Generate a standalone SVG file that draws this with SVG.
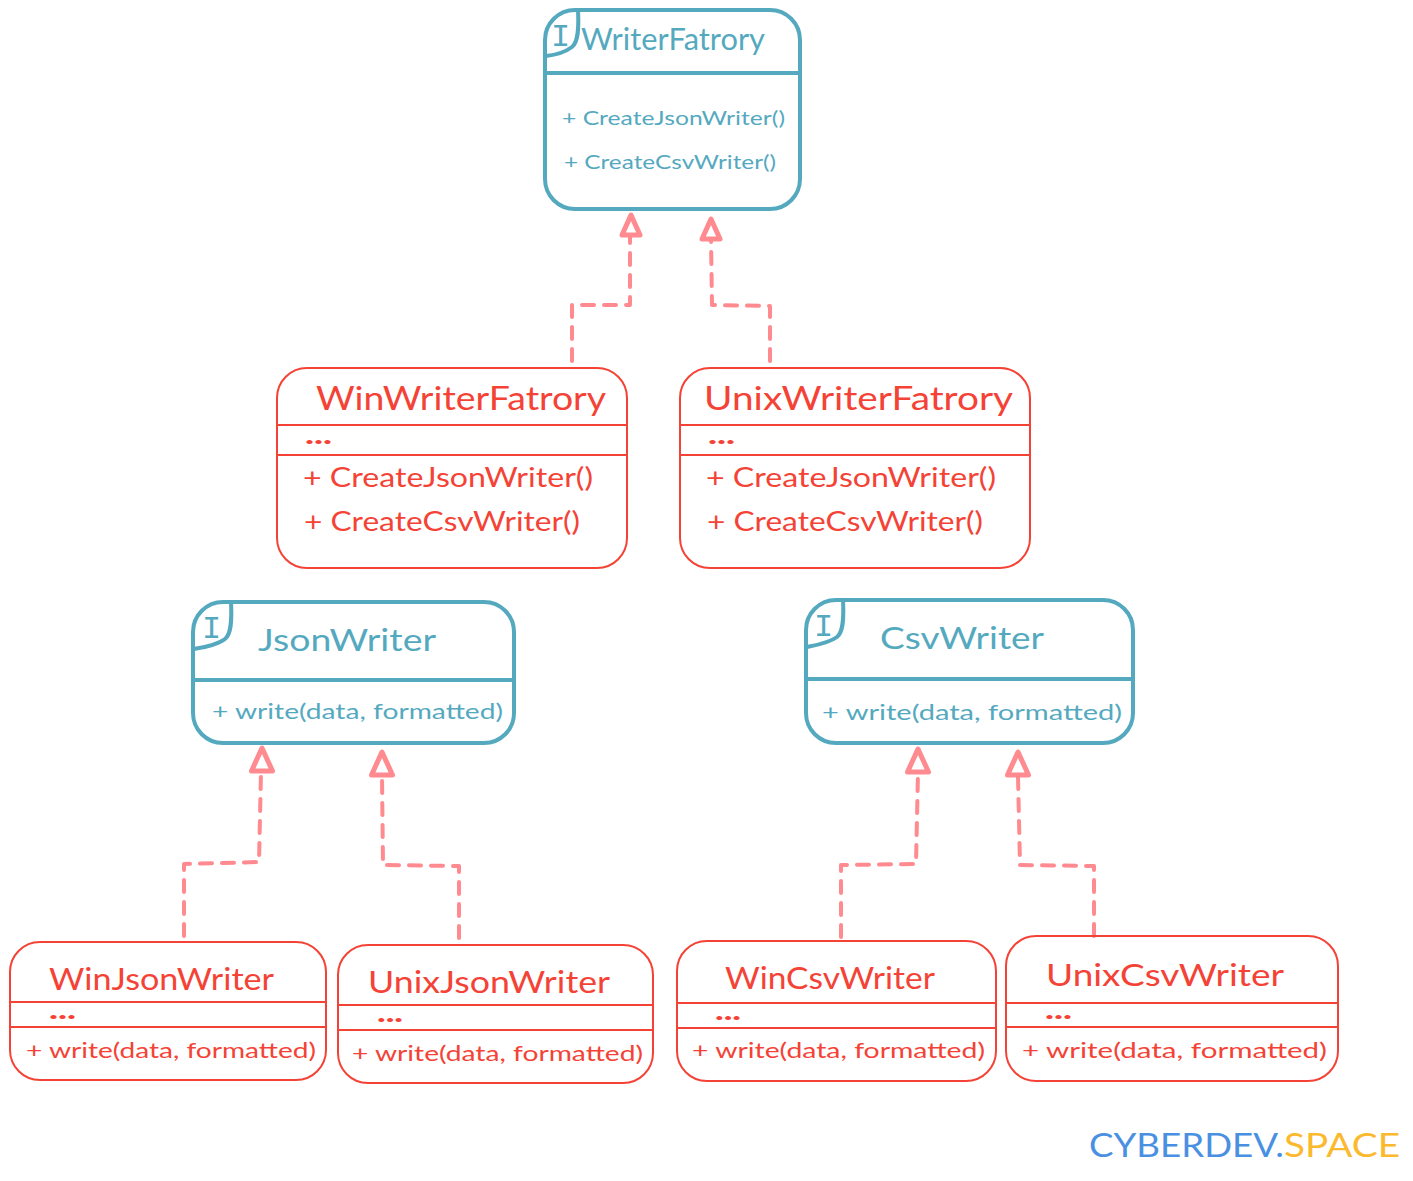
<svg xmlns="http://www.w3.org/2000/svg" width="1413" height="1181" viewBox="0 0 1413 1181">
<style>
text{font-family:"Lato","Noto Sans",sans-serif;white-space:pre}
.i rect,.i path{fill:none;stroke:#54a9bf;stroke-width:4;stroke-linecap:round}
.i text{fill:#54a9bf}
.c rect,.c path{fill:none;stroke:#f44336;stroke-width:2;stroke-linecap:round}
.c text{fill:#f44336}
.t{font-size:31px}.m{font-size:22px}.s{font-size:20px}.d{font-size:24px;font-weight:900}
.w{font-size:33px}.l{font-size:26px}
.i text.ic{font-family:"Liberation Mono",monospace;font-size:32px}
#connectors path{fill:none;stroke:#ff8a8f;stroke-width:4;stroke-dasharray:12 10;stroke-linecap:round;stroke-linejoin:round}
.h{fill:#fff;stroke:#ff8a8f;stroke-width:5;stroke-linejoin:round}
</style>
<defs>
<path id="head" class="h" d="M-9,22 L0,2 L9,22 Z"/>
<path id="headb" class="h" d="M-10.500,25 L0,2 L10.500,25 Z"/>
</defs>
<g id="connectors">
<path d="M572,361V305H630V236"/><use href="#head" x="631" y="213"/>
<path d="M770,361V306L712,305L711,238"/><use href="#head" x="711" y="217"/>
<path d="M184,936V864L259,862L261,772"/><use href="#headb" x="262" y="746"/>
<path d="M459,938V866L383,865L382,776"/><use href="#headb" x="382" y="750"/>
<path d="M841,937V865L916,864L918,772"/><use href="#headb" x="918" y="747"/>
<path d="M1094,936V866L1020,865L1018,776"/><use href="#headb" x="1018" y="750"/>
</g>
<g id="writer-factory" class="i">
<rect x="545" y="10" width="255" height="199" rx="30"/>
<path d="M545,73H800M578,10C579,30 578,42 572,47C564,53 555,55 546,56"/>
<text x="551" y="46" class="ic">I</text>
<text x="581" y="50" class="t" textLength="184" lengthAdjust="spacingAndGlyphs">WriterFatrory</text>
<text x="562" y="125" class="s" textLength="223" lengthAdjust="spacingAndGlyphs">+ CreateJsonWriter()</text>
<text x="564" y="169" class="s" textLength="212" lengthAdjust="spacingAndGlyphs">+ CreateCsvWriter()</text>
</g>
<g id="win-writer-factory" class="c">
<rect x="277" y="368" width="350" height="200" rx="30"/>
<path d="M277,425H627M277,455H627"/>
<text x="316" y="410" class="w" textLength="290" lengthAdjust="spacingAndGlyphs">WinWriterFatrory</text>
<text x="305" y="444" class="d" textLength="27" lengthAdjust="spacingAndGlyphs">...</text>
<text x="303" y="487" class="l" textLength="290" lengthAdjust="spacingAndGlyphs">+ CreateJsonWriter()</text>
<text x="304" y="531" class="l" textLength="276" lengthAdjust="spacingAndGlyphs">+ CreateCsvWriter()</text>
</g>
<g id="unix-writer-factory" class="c">
<rect x="680" y="368" width="350" height="200" rx="30"/>
<path d="M680,425H1030M680,455H1030"/>
<text x="704" y="410" class="w" textLength="309" lengthAdjust="spacingAndGlyphs">UnixWriterFatrory</text>
<text x="708" y="444" class="d" textLength="27" lengthAdjust="spacingAndGlyphs">...</text>
<text x="706" y="487" class="l" textLength="290" lengthAdjust="spacingAndGlyphs">+ CreateJsonWriter()</text>
<text x="707" y="531" class="l" textLength="276" lengthAdjust="spacingAndGlyphs">+ CreateCsvWriter()</text>
</g>
<g id="json-writer" class="i">
<rect x="193" y="602" width="321" height="141" rx="30"/>
<path d="M193,680H514M231,602C232,622 231,634 225,639C217,645 205,647 194,649"/>
<text x="202" y="638" class="ic">I</text>
<text x="258" y="651" class="t" textLength="178" lengthAdjust="spacingAndGlyphs">JsonWriter</text>
<text x="212" y="719" class="m" textLength="291" lengthAdjust="spacingAndGlyphs">+ write(data, formatted)</text>
</g>
<g id="csv-writer" class="i">
<rect x="806" y="600" width="327" height="143" rx="30"/>
<path d="M806,679H1133M843,600C844,620 843,632 837,637C829,643 817,645 807,647"/>
<text x="814" y="636" class="ic">I</text>
<text x="880" y="649" class="t" textLength="164" lengthAdjust="spacingAndGlyphs">CsvWriter</text>
<text x="822" y="720" class="m" textLength="300" lengthAdjust="spacingAndGlyphs">+ write(data, formatted)</text>
</g>
<g id="win-json-writer" class="c">
<rect x="10" y="942" width="316" height="138" rx="30"/>
<path d="M10,1002H326M10,1027H326"/>
<text x="49" y="990" class="t" textLength="225" lengthAdjust="spacingAndGlyphs">WinJsonWriter</text>
<text x="49" y="1019" class="d" textLength="27" lengthAdjust="spacingAndGlyphs">...</text>
<text x="26" y="1058" class="m" textLength="290" lengthAdjust="spacingAndGlyphs">+ write(data, formatted)</text>
</g>
<g id="unix-json-writer" class="c">
<rect x="338" y="945" width="315" height="138" rx="30"/>
<path d="M338,1005H653M338,1030H653"/>
<text x="368" y="993" class="t" textLength="242" lengthAdjust="spacingAndGlyphs">UnixJsonWriter</text>
<text x="377" y="1022" class="d" textLength="26" lengthAdjust="spacingAndGlyphs">...</text>
<text x="352" y="1061" class="m" textLength="291" lengthAdjust="spacingAndGlyphs">+ write(data, formatted)</text>
</g>
<g id="win-csv-writer" class="c">
<rect x="677" y="941" width="319" height="140" rx="30"/>
<path d="M677,1003H996M677,1028H996"/>
<text x="725" y="989" class="t" textLength="210" lengthAdjust="spacingAndGlyphs">WinCsvWriter</text>
<text x="715" y="1020" class="d" textLength="26" lengthAdjust="spacingAndGlyphs">...</text>
<text x="692" y="1058" class="m" textLength="293" lengthAdjust="spacingAndGlyphs">+ write(data, formatted)</text>
</g>
<g id="unix-csv-writer" class="c">
<rect x="1006" y="936" width="332" height="145" rx="30"/>
<path d="M1006,1003H1338M1006,1027H1338"/>
<text x="1046" y="986" class="t" textLength="238" lengthAdjust="spacingAndGlyphs">UnixCsvWriter</text>
<text x="1045" y="1019" class="d" textLength="27" lengthAdjust="spacingAndGlyphs">...</text>
<text x="1022" y="1058" class="m" textLength="305" lengthAdjust="spacingAndGlyphs">+ write(data, formatted)</text>
</g>
<g id="brand">
<text x="1089" y="1157" style="font-size:32px;fill:#4a90e2" textLength="195" lengthAdjust="spacingAndGlyphs">CYBERDEV.</text>
<text x="1284" y="1157" style="font-size:32px;fill:#fbb92d" textLength="116" lengthAdjust="spacingAndGlyphs">SPACE</text>
</g>
</svg>
